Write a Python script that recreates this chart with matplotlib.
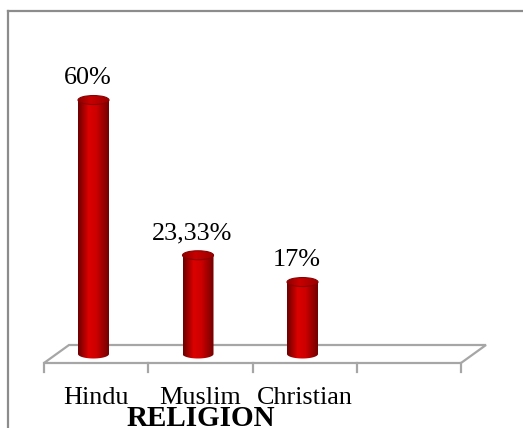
import numpy as np
import matplotlib.pyplot as plt
from matplotlib.patches import Ellipse, PathPatch, Polygon
from matplotlib.path import Path
from matplotlib.colors import LinearSegmentedColormap
from matplotlib.lines import Line2D

# data
categories = ['Hindu', 'Muslim', 'Christian']
values = [60, 23.33, 17]
value_labels = ['60%', '23,33%', '17%']
axis_title = 'RELIGION'
n_slots = 4  # the floor has one empty slot on the right

W, H = 523, 428
fig = plt.figure(figsize=(W / 100, H / 100), dpi=100)

# axes placed in pixels: x slots -0.5..3.5, y -20..70 (0 at pixel row 354)
left_px, right_px = 41.25, 459.25
zero_px, top_px = 354, 57.7
y_lo, y_hi = -20, 70
sx = (right_px - left_px) / n_slots          # px per x unit
sy = (zero_px - top_px) / y_hi               # px per y unit
bottom_px = zero_px - y_lo * sy
ax = fig.add_axes([left_px / W, (H - bottom_px) / H,
                   (right_px - left_px) / W, (bottom_px - top_px) / H])
ax.axis('off')

dx = lambda p: p / sx
dy = lambda p: p / sy

font = 'Liberation Serif'
grey = '#a6a6a6'

# floor (3d parallelogram)
fx0, fx1 = -0.5 + dx(2.75), n_slots - 0.5 + dx(1.75)
fy_front, fy_back = -dy(9), dy(9)
depth = dx(25)
floor = Polygon([(fx0, fy_front), (fx1, fy_front), (fx1 + depth, fy_back),
                 (fx0 + depth, fy_back)], closed=True, fill=False,
                edgecolor=grey, lw=1.6, clip_on=False, zorder=1)
ax.add_patch(floor)
for xt in np.linspace(fx0, fx1, n_slots + 1):
    ax.plot([xt, xt], [fy_front, fy_front - dy(9)], color=grey, lw=1.6,
            clip_on=False, zorder=1)

# cylinders
body_cmap = LinearSegmentedColormap.from_list(
    'body', [(0, '#6a0000'), (0.35, '#dd0000'), (0.6, '#cc0000'), (1, '#720000')])
top_cmap = LinearSegmentedColormap.from_list(
    'top', [(0, '#8c0000'), (0.4, '#c80000'), (1, '#9a0000')])
grad = np.linspace(0, 1, 256).reshape(1, -1)

bw = dx(31)
eh = dy(9)
for i, v in enumerate(values):
    x0, x1 = i - bw / 2, i + bw / 2
    t = np.linspace(np.pi, 2 * np.pi, 40)
    pts = [(x0, v)] + [(i + bw / 2 * np.cos(a), eh / 2 * np.sin(a)) for a in t] + [(x1, v), (x0, v)]
    body = PathPatch(Path(pts), facecolor='none', edgecolor='none')
    ax.add_patch(body)
    im = ax.imshow(grad, cmap=body_cmap, extent=[x0, x1, -eh, v], aspect='auto', zorder=2)
    im.set_clip_path(body)
    top = Ellipse((i, v), bw, eh, facecolor='none', edgecolor='none')
    ax.add_patch(top)
    im2 = ax.imshow(grad, cmap=top_cmap, extent=[x0, x1, v - eh / 2, v + eh / 2],
                    aspect='auto', zorder=3)
    im2.set_clip_path(top)
    ax.add_patch(Ellipse((i, v), bw, eh, facecolor='none', edgecolor='#8a0000',
                         lw=0.8, zorder=4))
    ax.annotate(value_labels[i], (i, v), xytext=(-6, 16), textcoords='offset pixels',
                ha='center', va='baseline', fontsize=18.8, family=font)

ax.set_xlim(-0.5, n_slots - 0.5)
ax.set_ylim(y_lo, y_hi)

for i, c in enumerate(categories):
    ax.annotate(c, (i, 0), xytext=(2.5, -50), textcoords='offset pixels',
                ha='center', va='baseline', fontsize=18.8, family=font)

fig.text(201 / W, 1.5 / H, axis_title, ha='center', va='baseline',
         fontsize=21, fontweight='bold', family=font)

# outer frame (left and top edges visible)
frame_c = '#8c8c8c'
fig.add_artist(Line2D([8 / W, 8 / W], [0, 1 - 11 / H], color=frame_c, lw=1.6))
fig.add_artist(Line2D([8 / W, 1], [1 - 11 / H, 1 - 11 / H], color=frame_c, lw=1.6))

fig.savefig('out.png', dpi=100)
